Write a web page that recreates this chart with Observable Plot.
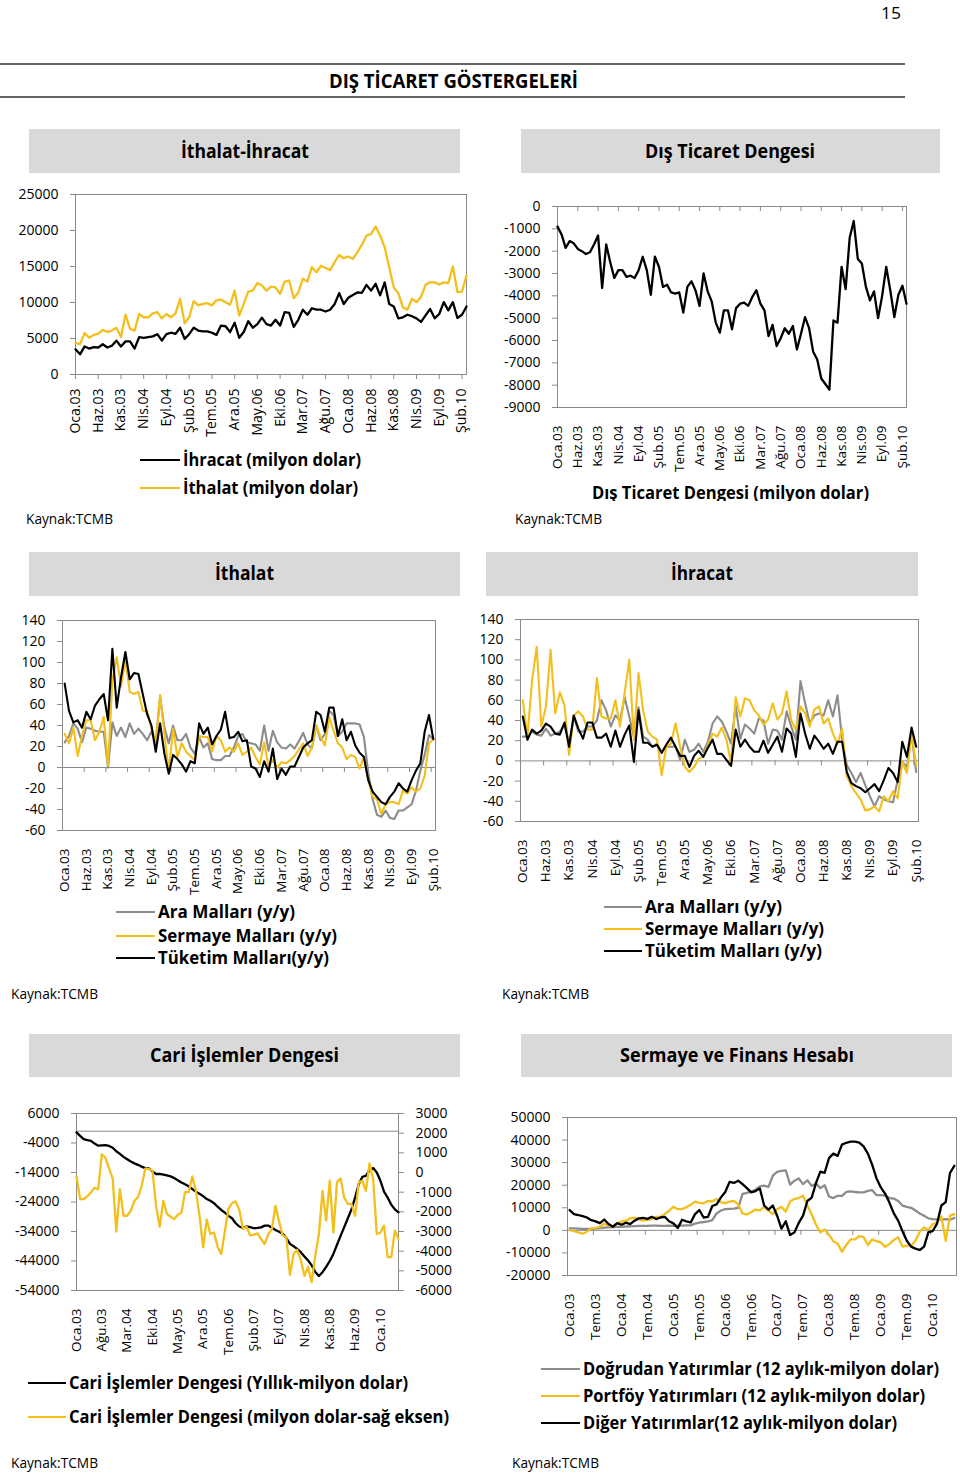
<!DOCTYPE html>
<html lang="tr">
<head>
<meta charset="utf-8">
<title>Dış Ticaret Göstergeleri</title>
<script src="https://cdn.jsdelivr.net/npm/d3@7"></script>
<script src="https://cdn.jsdelivr.net/npm/@observablehq/plot@0.6"></script>
<style>
  html, body { margin: 0; padding: 0; background: #fff; }
  #page { position: relative; width: 960px; height: 1474px; overflow: hidden; background: #fff; }
  #page svg { position: absolute; }
</style>
</head>
<body>
<div id="page"></div>
<script>
// ---------------- DATA (millions of USD unless noted; most written in thousands) ----------------
const monthAbbr = ["Oca","Şub","Mar","Nis","May","Haz","Tem","Ağu","Eyl","Eki","Kas","Ara"];
const K = v => v * 1000;

// Panel 1: İthalat-İhracat, Oca.03 – Mar.10 (87 months)
const ihracat = [3.5,2.8,3.9,3.6,3.8,3.75,4.2,3.75,4.0,4.7,3.9,4.6,
  4.6,3.6,5.2,5.1,5.2,5.3,5.6,4.7,5.6,5.8,5.65,6.5,
  4.95,5.6,6.5,6.1,6.0,6.0,5.8,5.5,6.8,6.7,5.9,7.2,
  5.1,5.9,7.4,6.5,7.0,7.9,7.0,6.8,7.6,6.8,8.65,8.55,
  6.6,7.6,9.0,8.3,9.2,9.0,9.0,8.75,9.0,9.8,11.3,9.8,
  10.65,11.05,11.4,11.35,12.45,11.65,12.6,11.0,12.8,9.8,9.45,7.8,
  7.95,8.3,8.1,7.8,7.3,8.2,9.1,7.8,8.4,10.05,8.9,10.05,
  7.85,8.3,9.45].map(K);
const ithalat = [4.4,4.2,5.75,5.1,5.5,5.65,6.2,5.9,6.1,6.5,5.2,8.3,
  6.35,6.1,8.4,7.95,7.95,8.5,8.65,7.8,8.4,7.95,8.5,10.5,
  7.1,7.95,10.2,9.6,9.8,9.9,9.6,10.3,10.4,10.05,9.7,11.65,
  8.2,9.8,11.5,11.65,12.7,12.35,11.65,12.2,12.1,11.2,12.9,13.05,
  10.6,11.4,13.3,12.9,14.9,14.2,15.1,14.8,14.5,15.6,16.6,16.15,
  16.4,16.05,17.0,18.0,19.3,19.5,20.55,19.3,17.7,14.9,12.1,11.3,
  9.35,9.0,10.5,10.05,10.8,12.45,12.8,12.8,12.5,12.8,12.7,15.0,
  11.45,11.5,13.75].map(K);

// Panel 2: Dış Ticaret Dengesi, Oca.03 – Mar.10 (87 months)
const denge = [-0.9,-1.25,-1.85,-1.55,-1.65,-1.9,-2.0,-2.13,-2.05,-1.7,-1.3,-3.65,
  -1.7,-2.5,-3.2,-2.85,-2.85,-3.15,-3.1,-3.2,-2.85,-2.25,-2.85,-3.95,
  -2.25,-2.7,-3.6,-3.5,-3.85,-3.9,-3.85,-4.75,-3.6,-3.35,-3.75,-4.45,
  -3.0,-3.8,-4.25,-5.2,-5.65,-4.65,-4.65,-5.5,-4.55,-4.35,-4.3,-4.45,
  -4.05,-3.75,-4.35,-4.65,-5.8,-5.3,-6.25,-5.9,-5.45,-5.7,-5.35,-6.4,
  -5.7,-4.95,-5.45,-6.5,-6.85,-7.7,-7.95,-8.2,-5.1,-5.2,-2.7,-3.7,
  -1.4,-0.65,-2.35,-2.55,-3.6,-4.2,-3.8,-5.0,-4.0,-2.7,-3.75,-4.95,
  -3.95,-3.55,-4.35].map(K);

// Panel 3: İthalat (y/y %), Oca.03 – Şub.10 (86 months)
const ithAra = [24,30,42,37,24,38,37,35,34,34,0,43,
  30,38,29,42,32,37,32,26,34,24,67,38,
  23,40,26,26,32,19,13,29,19,23,8,7,
  7,11,11,19,30,32,24,23,22,16,40,16,
  35,24,19,18,22,18,25,
  33,22,18,40,26,32,54,50,30,34,42,42,42,41,29,-5,-30,-45,-47,-41,-48,-49,-41,-41,-38,-35,-22,-3,12,31,27];
const ithSermaye = [32,23,38,11,30,45,45,26,34,48,2,83,
  105,77,103,72,70,72,54,54,38,23,69,32,
  -4,37,10,23,15,11,7,30,29,29,15,30,
  26,15,19,15,23,12,15,19,10,3,24,1,
  7,0,5,4,7,11,17,
  23,11,19,40,29,21,48,35,23,19,8,12,10,-1,10,-12,-28,-30,-44,-35,-33,-33,-35,-22,-25,-19,-23,-20,-8,23,27];
const ithTuketim = [80,54,43,45,38,53,46,59,65,70,45,113,
  57,86,110,84,90,89,70,51,40,15,42,13,
  -6,12,8,3,-4,6,4,42,32,38,22,30,
  36,53,28,29,34,25,26,1,-1,-9,6,-4,
  18,-11,-1,-7,1,1,10,
  19,23,26,53,50,34,57,57,30,46,26,34,21,14,10,-12,-23,-28,-33,-35,-28,-23,-15,-20,-23,-12,-3,4,34,50,27];

// Panel 4: İhracat (y/y %), Oca.03 – Şub.10 (86 months)
const ihrAra = [24,24,29,26,25,32,25,27,29,36,
  17,44,29,29,34,34,40,60,50,34,
  45,40,63,44,24,53,24,21,14,17,
  8,14,14,14,1,21,9,11,17,9,
  19,37,44,39,29,17,54,22,36,32,
  27,42,40,17,31,30,21,49,34,21,
  79,57,37,45,47,45,60,44,65,21,
  -4,-12,-21,-12,-24,-35,-45,-35,-38,-40,
  -41,-19,-1,-6,27,-11];
const ihrSermaye = [60,24,80,113,34,54,110,47,68,55,
  6,45,49,44,31,31,82,44,42,42,
  60,34,67,100,21,87,50,29,24,21,
  -14,14,17,37,14,-6,-11,-6,2,4,
  16,27,24,33,21,-2,63,44,62,60,
  50,45,36,41,57,41,47,69,40,31,
  54,47,34,51,54,37,42,27,17,32,
  -15,-25,-32,-38,-49,-48,-45,-50,-35,-40,
  -30,-37,-1,-12,27,-4];
const ihrTuketim = [44,21,31,27,30,37,34,27,26,38,
  14,45,32,22,38,38,23,23,27,14,
  30,14,26,35,-1,50,18,18,14,16,
  8,16,23,14,5,5,-6,5,10,4,
  13,21,7,7,1,-5,31,14,21,14,
  9,9,20,8,16,24,9,32,27,4,
  47,27,12,25,19,12,17,7,19,19,
  -11,-22,-25,-27,-31,-27,-23,-30,-19,-7,
  -12,-21,19,4,33,14];

// Panel 5: Cari İşlemler Dengesi, Oca.03 – Haz.10 (90 months)
const cariYillik = [-0.4,-1.6,-2.7,-3.0,-3.3,-4.2,-4.9,-4.8,-4.7,-5.0,
  -5.6,-6.8,-7.7,-8.7,-9.5,-10.3,-10.9,-11.4,-12.0,-12.5,
  -12.6,-13.6,-14.5,-14.5,-14.7,-15.0,-15.3,-15.9,-16.6,-17.4,
  -18.0,-18.7,-19.6,-20.5,-21.2,-22.0,-23.0,-23.6,-24.4,-25.6,
  -26.7,-27.6,-28.7,-29.5,-31.2,-32.3,-32.8,-32.3,-32.5,-32.9,
  -32.8,-32.6,-32.0,-32.0,-32.7,-33.5,-34.1,-34.8,-36.2,-38.2,
  -39.0,-39.9,-41.0,-42.5,-43.8,-45.5,-47.7,-49.1,-47.8,-46.0,
  -44.0,-41.6,-38.5,-35.5,-32.5,-29.5,-26.5,-22.5,-18.0,-15.5,
  -15.1,-13.3,-12.5,-14.0,-16.8,-20.5,-22.5,-24.9,-26.5,-27.5].map(K);
const cariAylik = [-0.2,-1.35,-1.35,-1.2,-1.0,-0.78,-0.85,0.93,0.75,0.2,
  -0.3,-3.0,-0.85,-2.2,-2.2,-1.95,-1.45,-1.25,-0.7,0.2,
  0.17,0.1,-1.7,-2.75,-1.45,-2.1,-2.25,-2.37,-2.15,-2.05,
  -1.0,-1.0,-0.2,-0.93,-2.2,-3.8,-2.4,-3.13,-3.05,-3.77,
  -4.15,-3.0,-1.85,-1.55,-1.47,-1.9,-2.88,-2.76,-3.2,-3.16,
  -3.1,-3.38,-3.64,-3.13,-2.88,-1.7,-2.5,-3.2,-3.3,-5.2,
  -4.15,-3.93,-4.45,-5.25,-4.8,-5.58,-4.23,-3.13,-0.93,-2.45,
  -0.42,-3.05,-0.5,-0.3,-1.27,-1.6,-1.6,-2.2,-0.5,-0.42,
  -0.93,0.46,-0.34,-3.13,-3.05,-2.7,-4.3,-4.3,-2.96,-3.38].map(K);

// Panel 6: Sermaye ve Finans Hesabı (12 aylık), Oca.03 – Haz.10 (90 months)
const dogrudan = [0.9,0.9,0.8,0.7,0.6,0.7,0.8,1.0,1.2,1.3,
  1.4,1.5,1.6,1.7,1.8,1.9,2.0,2.0,2.0,2.1,
  2.1,2.0,2.0,2.1,2.0,2.1,2.1,2.2,2.2,3.0,
  3.4,3.7,4.0,4.5,7.5,8.8,9.4,9.5,9.6,10.0,
  16.2,16.6,17.2,18.0,19.5,19.8,19.3,24.2,25.9,26.4,
  26.6,20.3,22.0,23.0,20.5,22.2,19.7,20.8,18.7,20.0,
  15.0,14.3,15.3,15.3,17.0,17.3,17.0,16.8,16.8,17.5,
  17.8,15.6,15.6,15.4,14.3,14.1,13.0,11.0,10.4,10.0,
  8.8,7.5,6.5,5.3,5.0,4.9,4.8,5.0,4.7,5.5].map(K);
const portfoy = [0.1,-0.4,-0.9,-1.5,-0.6,0.9,1.0,1.6,3.0,2.1,
  1.8,2.8,4.0,4.3,5.3,5.6,5.0,4.3,4.6,5.0,
  6.0,6.0,7.2,8.7,10.5,9.4,9.4,10.2,11.3,12.7,
  12.2,12.0,13.0,12.8,13.9,12.4,12.1,12.7,13.1,11.5,
  7.5,7.0,8.0,9.2,8.8,10.4,8.8,7.2,9.4,10.5,
  8.3,12.8,13.9,14.3,15.3,11.0,7.0,2.5,-0.9,0.4,
  -2.0,-4.8,-5.8,-9.5,-6.5,-4.0,-4.0,-2.6,-3.0,-6.5,
  -4.0,-4.8,-5.3,-7.3,-6.0,-4.3,-3.1,-7.2,-6.8,-6.8,
  -4.6,-0.6,1.3,0.2,2.8,3.5,6.2,-4.6,6.5,7.2].map(K);
const diger = [9.0,7.2,6.8,6.3,5.7,4.5,4.0,3.2,4.8,2.8,
  1.6,3.2,2.5,3.4,2.8,4.3,5.3,5.5,5.1,6.0,
  5.0,5.7,6.0,4.0,3.1,1.0,4.7,4.0,3.5,7.2,
  9.0,5.7,6.0,10.8,11.5,14.6,17.0,21.5,21.0,22.0,
  20.5,18.7,16.8,17.4,18.6,11.0,9.2,11.0,6.5,0.8,
  4.0,-2.1,-0.9,3.3,6.5,13.0,14.5,21.0,26.0,25.5,
  32.0,34.0,33.0,38.0,38.8,39.3,39.3,38.9,37.2,34.0,
  29.0,23.0,19.0,16.2,12.2,7.5,4.3,-0.4,-4.6,-7.2,
  -8.1,-8.7,-7.2,-0.8,-0.3,3.0,11.0,12.5,25.5,28.6].map(K);

// Axis tick values
const yTicks1 = [0, 5000, 10000, 15000, 20000, 25000];
const yTicks2 = [-9000,-8000,-7000,-6000,-5000,-4000,-3000,-2000,-1000,0];
const yTicksPct = [-60,-40,-20,0,20,40,60,80,100,120,140];
const yTicks5L = [-54000,-44000,-34000,-24000,-14000,-4000,6000];
const yTicks5R = [-6000,-5000,-4000,-3000,-2000,-1000,0,1000,2000,3000];
const yTicks6 = [-20000,-10000,0,10000,20000,30000,40000,50000];

// ---------------- helpers ----------------
const page = document.getElementById("page");
const GOLD = "#f2bf1c", GRAY = "#8c8c8c", BLACK = "#000", FRAME = "#8a8a8a";
const FONT = '"Open Sans", sans-serif';
const monthLabel = i => monthAbbr[i % 12] + "." + String(3 + Math.floor(i / 12)).padStart(2, "0");
const every = (n, step, start = 0) => d3.range(start, n, step);
const fmt = d => String(d);

function chart({frame: [x0, y0, x1, y1], m: [mt, mr, mb, ml], x, y, marks}) {
  const svg = Plot.plot({
    width: x1 - x0 + ml + mr, height: y1 - y0 + mt + mb,
    marginTop: mt, marginRight: mr, marginBottom: mb, marginLeft: ml,
    x, y,
    style: {fontFamily: FONT, fontSize: "14px", color: "#000", background: "transparent", overflow: "visible"},
    marks
  });
  svg.style.left = (x0 - ml) + "px";
  svg.style.top = (y0 - mt) + "px";
  page.appendChild(svg);
}
const line = (data, stroke, sw = 2.3) => Plot.lineY(data, {stroke, strokeWidth: sw, strokeLinejoin: "round"});
const xLabels = (ticks, size, pad, fs = 13.5) => Plot.axisX({ticks, tickSize: size, tickPadding: pad, tickRotate: -90, tickFormat: monthLabel, stroke: FRAME, fontSize: fs, label: null});
const yAxis = (ticks, opts = {}) => Plot.axisY({ticks, tickSize: 5, tickPadding: 12, tickFormat: fmt, stroke: FRAME, fontSize: 14, label: null, ...opts});
const zeroTicks = ticks => Plot.ruleX(ticks, {x: d => d, y1: 0, y2: 0, insetBottom: -5, stroke: FRAME});

// Panel 1 — İthalat-İhracat
chart({frame: [75, 194, 466, 374], m: [10, 10, 70, 70],
  x: {domain: [0, 86]}, y: {domain: [0, 25000]},
  marks: [
    Plot.frame({stroke: FRAME}),
    yAxis(yTicks1),
    xLabels(every(87, 5), 5, 9, 14),
    line(ihracat, BLACK),
    line(ithalat, GOLD)
  ]});

// Panel 2 — Dış Ticaret Dengesi
chart({frame: [557, 206, 906, 407], m: [10, 10, 70, 70],
  x: {domain: [0, 86]}, y: {domain: [-9000, 0]},
  marks: [
    Plot.frame({stroke: FRAME}),
    yAxis(yTicks2),
    zeroTicks(every(87, 5, 5)),
    xLabels(every(87, 5), 0, 18),
    line(denge, BLACK)
  ]});

// Panel 3 — İthalat (y/y)
chart({frame: [62, 620, 435, 830], m: [10, 10, 70, 60],
  x: {domain: [-0.5, 85.5]}, y: {domain: [-60, 140]},
  marks: [
    Plot.frame({stroke: FRAME}),
    Plot.ruleY([0], {stroke: FRAME}),
    zeroTicks(every(86, 5, 4.5)),
    yAxis(yTicksPct),
    xLabels(every(86, 5), 0, 18),
    line(ithAra, GRAY, 2.1),
    line(ithSermaye, GOLD, 2.1),
    line(ithTuketim, BLACK, 2.1)
  ]});

// Panel 4 — İhracat (y/y)
chart({frame: [520, 619, 918, 821], m: [10, 10, 70, 60],
  x: {domain: [-0.5, 85.5]}, y: {domain: [-60, 140]},
  marks: [
    Plot.frame({stroke: FRAME}),
    Plot.ruleY([0], {stroke: FRAME}),
    zeroTicks(every(86, 5, 4.5)),
    yAxis(yTicksPct),
    xLabels(every(86, 5), 0, 18),
    line(ihrAra, GRAY, 2.1),
    line(ihrSermaye, GOLD, 2.1),
    line(ihrTuketim, BLACK, 2.1)
  ]});

// Panel 5 — Cari İşlemler Dengesi (dual axis: right axis mapped onto left domain)
const L0 = -54000, L1 = 6000, R0 = -6000, R1 = 3000;
const toLeft = r => L0 + (r - R0) * (L1 - L0) / (R1 - R0);
const fromLeft = l => R0 + (l - L0) * (R1 - R0) / (L1 - L0);
chart({frame: [76, 1113, 398, 1290], m: [10, 70, 70, 70],
  x: {domain: [0, 89]}, y: {domain: [L0, L1]},
  marks: [
    Plot.frame({stroke: FRAME}),
    Plot.ruleY([0], {stroke: FRAME}),
    yAxis(yTicks5L),
    yAxis(yTicks5R.map(toLeft), {anchor: "right", tickFormat: d => String(Math.round(fromLeft(d)))}),
    xLabels(every(90, 7), 0, 18),
    line(cariYillik, BLACK),
    Plot.lineY(cariAylik, {y: toLeft, stroke: GOLD, strokeWidth: 2.3, strokeLinejoin: "round"})
  ]});

// Panel 6 — Sermaye ve Finans Hesabı
chart({frame: [567, 1117, 956, 1275], m: [10, 4, 70, 70],
  x: {domain: [-0.5, 89.5]}, y: {domain: [-20000, 50000]},
  marks: [
    Plot.frame({stroke: FRAME}),
    Plot.ruleY([0], {stroke: FRAME}),
    zeroTicks(every(90, 6, 5.5)),
    yAxis(yTicks6),
    xLabels(every(90, 6), 0, 18),
    line(dogrudan, GRAY),
    line(portfoy, GOLD),
    line(diger, BLACK)
  ]});

// ---------------- page decorations: titles, legends, sources ----------------
const ov = d3.create("svg").attr("width", 960).attr("height", 1474)
  .style("left", "0px").style("top", "0px").style("pointer-events", "none")
  .attr("font-family", FONT);
ov.append("defs").append("clipPath").attr("id", "clipLeg2")
  .append("rect").attr("x", 560).attr("y", 470).attr("width", 340).attr("height", 31);

[64, 97].forEach(yy => ov.append("line").attr("x1", 0).attr("x2", 905).attr("y1", yy).attr("y2", yy).attr("stroke", "#333").attr("stroke-width", 1.5));

const boxes = [
  [29, 129, 460, 173], [521, 129, 940, 173],
  [29, 552, 460, 596], [486, 552, 918, 596],
  [29, 1034, 460, 1077], [521, 1034, 952, 1077]
];
boxes.forEach(([a, b, c, d]) => ov.append("rect").attr("x", a).attr("y", b).attr("width", c - a).attr("height", d - b).attr("fill", "#d9d9d9"));

function txt(t, x, y, size, weight, len, clip) {
  const e = ov.append("text").attr("x", x).attr("y", y).attr("font-size", size).attr("font-weight", weight)
    .attr("fill", "#000").attr("textLength", len).attr("lengthAdjust", "spacingAndGlyphs").text(t);
  if (clip) e.attr("clip-path", "url(#clipLeg2)");
}
txt("15", 881, 19, 17, 400, 20);
txt("DIŞ TİCARET GÖSTERGELERİ", 329, 88, 20, 700, 249);
txt("İthalat-İhracat", 181, 158, 20, 700, 128);
txt("Dış Ticaret Dengesi", 645, 158, 20, 700, 170);
txt("İthalat", 215, 580, 20, 700, 59);
txt("İhracat", 671, 580, 20, 700, 62);
txt("Cari İşlemler Dengesi", 150, 1062, 20, 700, 189);
txt("Sermaye ve Finans Hesabı", 620, 1062, 20, 700, 234);
[[26, 524], [515, 524], [11, 999], [502, 999], [11, 1468], [512, 1468]].forEach(([x, y]) => txt("Kaynak:TCMB", x, y, 14, 400, 87));

// legends: [label, color, lineX0, lineX1, y, textEnd, fontSize]
const legends = [
  ["İhracat (milyon dolar)", BLACK, 140, 180, 460, 361, 18],
  ["İthalat (milyon dolar)", GOLD, 140, 180, 488, 358, 18],
  ["Ara Malları (y/y)", GRAY, 116, 155, 912, 295, 17],
  ["Sermaye Malları (y/y)", GOLD, 116, 155, 936, 337, 17],
  ["Tüketim Malları(y/y)", BLACK, 116, 155, 958, 329, 17],
  ["Ara Malları (y/y)", GRAY, 604, 642, 907, 782, 17],
  ["Sermaye Malları (y/y)", GOLD, 604, 642, 929, 824, 17],
  ["Tüketim Malları (y/y)", BLACK, 604, 642, 951, 822, 17],
  ["Cari İşlemler Dengesi (Yıllık-milyon dolar)", BLACK, 28, 66, 1383, 408, 17],
  ["Cari İşlemler Dengesi (milyon dolar-sağ eksen)", GOLD, 28, 66, 1417, 449, 17],
  ["Doğrudan Yatırımlar (12 aylık-milyon dolar)", GRAY, 541, 580, 1369, 939, 17],
  ["Portföy Yatırımları (12 aylık-milyon dolar)", GOLD, 541, 580, 1396, 925, 17],
  ["Diğer Yatırımlar(12 aylık-milyon dolar)", BLACK, 541, 580, 1423, 897, 17]
];
legends.forEach(([t, c, a, b, y, end, fs]) => {
  ov.append("line").attr("x1", a).attr("x2", b).attr("y1", y).attr("y2", y).attr("stroke", c).attr("stroke-width", 2);
  txt(t, b + 3, y + Math.round(fs * 0.36), fs, 700, end - b - 3);
});
txt("Dış Ticaret Dengesi (milyon dolar)", 592, 499, 18, 700, 277, true);

page.appendChild(ov.node());
</script>
</body>
</html>
